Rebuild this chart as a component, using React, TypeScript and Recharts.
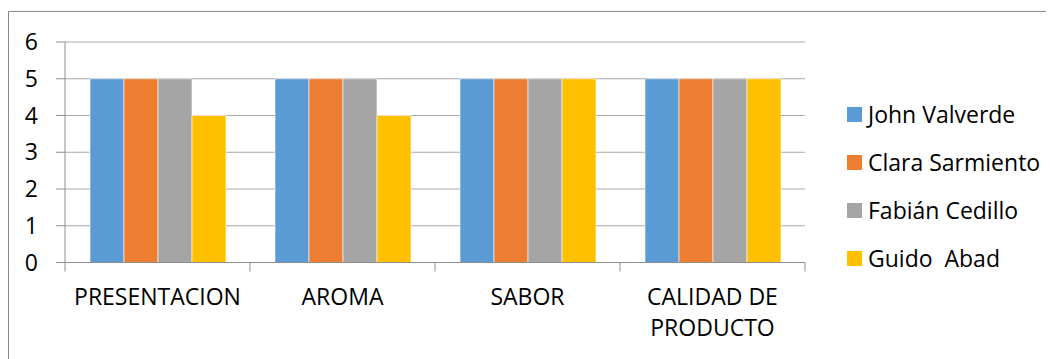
import React from "react";
import { BarChart, Bar, XAxis, YAxis, CartesianGrid, Legend, Text } from "recharts";

const categories = ["PRESENTACION", "AROMA", "SABOR", "CALIDAD DE PRODUCTO"];
const johnValverde = [5, 5, 5, 5];
const claraSarmiento = [5, 5, 5, 5];
const fabianCedillo = [5, 5, 5, 5];
const guidoAbad = [4, 4, 5, 5];
const yTicks = [0, 1, 2, 3, 4, 5, 6];

const seriesNames = ["John Valverde", "Clara Sarmiento", "Fabián Cedillo", "Guido  Abad"];
const seriesColors = ["#5B9BD5", "#ED7D31", "#A5A5A5", "#FFC000"];

const data = categories.map((c, i) => ({
  name: c,
  s0: johnValverde[i],
  s1: claraSarmiento[i],
  s2: fabianCedillo[i],
  s3: guidoAbad[i],
}));

const FONT = "'Open Sans', sans-serif";
const GRID = "#A9A9A9";
const AXIS = "#8E8E8E";

const CategoryTick = (props: any) => {
  const { x, y, payload, index, visibleTicksCount } = props;
  const half = payload && payload.offset ? payload.offset : 0;
  const isLast = index === visibleTicksCount - 1;
  return (
    <g>
      <line x1={x - half} x2={x - half} y1={y} y2={y + 9} stroke={AXIS} strokeWidth={1} />
      {isLast && <line x1={x + half} x2={x + half} y1={y} y2={y + 9} stroke={AXIS} strokeWidth={1} />}
      <Text
        x={x}
        y={y + 26}
        width={half * 2 - 20}
        textAnchor="middle"
        verticalAnchor="start"
        lineHeight={31}
        fontFamily={FONT}
        fontSize={23}
        fill="#000"
      >
        {payload.value}
      </Text>
    </g>
  );
};

const LegendContent = (props: any) => {
  const payload = [...(props.payload || [])].sort(
    (a: any, b: any) => seriesNames.indexOf(a.value) - seriesNames.indexOf(b.value)
  );
  return (
    <div style={{ fontFamily: FONT }}>
      {payload.map((entry: any, i: number) => (
        <div key={i} style={{ display: "flex", alignItems: "center", height: 48 }}>
          <div style={{ width: 15, height: 15, background: entry.color, marginRight: 6 }} />
          <span style={{ fontSize: 23, color: "#000", whiteSpace: "pre" }}>{entry.value}</span>
        </div>
      ))}
    </div>
  );
};

export default function App() {
  return (
    <div style={{ position: "relative", width: 1046, height: 351, overflow: "hidden" }}>
      <div
        style={{
          position: "absolute",
          left: 0,
          top: 3,
          width: 1200,
          height: 500,
          borderLeft: "1px solid #8A8A8A",
          borderTop: "1px solid #8A8A8A",
          boxSizing: "border-box",
        }}
      />
      <div style={{ position: "absolute", left: 0, top: 0 }}>
        <BarChart
          width={1046}
          height={351}
          data={data}
          margin={{ top: 34, right: 249, left: 0, bottom: 0 }}
          barCategoryGap={25}
          barGap={0}
        >
          <CartesianGrid vertical={false} stroke={GRID} strokeWidth={1} />
          <XAxis
            dataKey="name"
            height={96.5}
            axisLine={{ stroke: AXIS }}
            tickLine={false}
            tickSize={0}
            tickMargin={0}
            interval={0}
            tick={<CategoryTick />}
          />
          <YAxis
            width={57}
            domain={[0, 6]}
            ticks={yTicks}
            interval={0}
            axisLine={{ stroke: AXIS }}
            tickLine={{ stroke: AXIS }}
            tickSize={9}
            tickMargin={18}
            tick={{ fontFamily: FONT, fontSize: 23, fill: "#000" }}
          />
          <Legend
            layout="vertical"
            align="center"
            verticalAlign="middle"
            content={<LegendContent />}
            wrapperStyle={{ position: "absolute", left: 839, top: 82, width: 200 }}
          />
          {seriesNames.map((n, i) => (
            <Bar
              key={n}
              dataKey={`s${i}`}
              name={n}
              fill={seriesColors[i]}
              stroke="#FFFFFF"
              strokeWidth={0.6}
              isAnimationActive={false}
            />
          ))}
        </BarChart>
      </div>
    </div>
  );
}
